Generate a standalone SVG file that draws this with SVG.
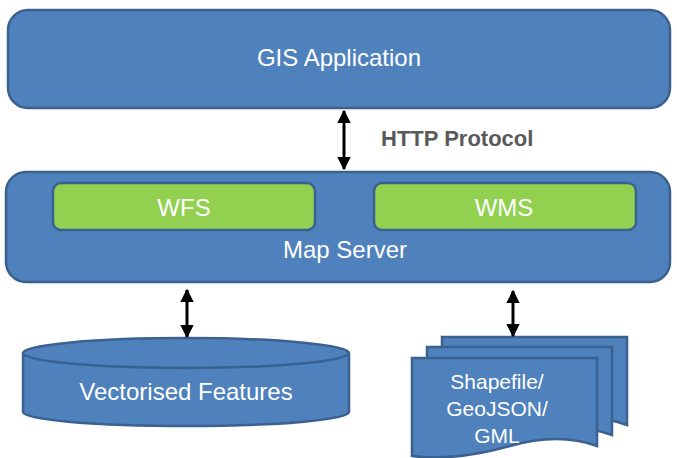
<svg xmlns="http://www.w3.org/2000/svg" width="677" height="458" viewBox="0 0 677 458">
<style>
.blue{fill:#4F81BD;stroke:#3A6190;stroke-width:2.5}
.green{fill:#92D050;stroke:#3A6190;stroke-width:2.5}
.lbl{font-family:"Liberation Sans",Arial,sans-serif;fill:#FFFFFF;text-anchor:middle;font-size:24px}
.doctxt{font-size:21px}
.conn{stroke:#000;stroke-width:3;fill:none}
</style>
<defs>
<marker id="ah" viewBox="0 0 10 10" refX="9" refY="5" markerWidth="4.5" markerHeight="4.5" orient="auto-start-reverse" markerUnits="strokeWidth">
<path d="M0,0 L10,5 L0,10 Z" fill="#000"/>
</marker>
<path id="doc" d="M0,0 H185 V88 C163,80 133,78 98,88 C63,98 33,102 0,98 Z"/>
</defs>
<rect width="677" height="458" fill="#FFFFFF"/>
<g id="gis-application">
<rect class="blue" x="8" y="10" width="662" height="98" rx="20"/>
<text class="lbl" x="339" y="66">GIS Application</text>
</g>
<g id="map-server">
<rect class="blue" x="6" y="172" width="664" height="110" rx="20"/>
<text class="lbl" x="345" y="258">Map Server</text>
</g>
<g id="wfs">
<rect class="green" x="53" y="183" width="262" height="47" rx="8"/>
<text class="lbl" x="184" y="216">WFS</text>
</g>
<g id="wms">
<rect class="green" x="374" y="183" width="262" height="47" rx="8"/>
<text class="lbl" x="504" y="216">WMS</text>
</g>
<g id="vectorised-features">
<path class="blue" d="M23,353 V412 A163,14 0 0 0 349,412 V353"/>
<ellipse class="blue" cx="186" cy="353" rx="163" ry="15"/>
<text class="lbl" x="186" y="400">Vectorised Features</text>
</g>
<g id="files">
<use href="#doc" class="blue" x="442" y="337"/>
<use href="#doc" class="blue" x="427" y="347"/>
<use href="#doc" class="blue" x="412" y="358"/>
<text class="lbl doctxt" x="497" y="389">Shapefile/</text>
<text class="lbl doctxt" x="497" y="416">GeoJSON/</text>
<text class="lbl doctxt" x="497" y="443">GML</text>
</g>
<g id="connectors">
<line class="conn" x1="344" y1="111" x2="344" y2="169" marker-start="url(#ah)" marker-end="url(#ah)"/>
<line class="conn" x1="187" y1="290" x2="187" y2="337" marker-start="url(#ah)" marker-end="url(#ah)"/>
<line class="conn" x1="513" y1="291" x2="513" y2="336" marker-start="url(#ah)" marker-end="url(#ah)"/>
<text x="381" y="146" style="font-family:'Liberation Sans',Arial,sans-serif;font-weight:bold;font-size:22px;fill:#595959">HTTP Protocol</text>
</g>
</svg>
